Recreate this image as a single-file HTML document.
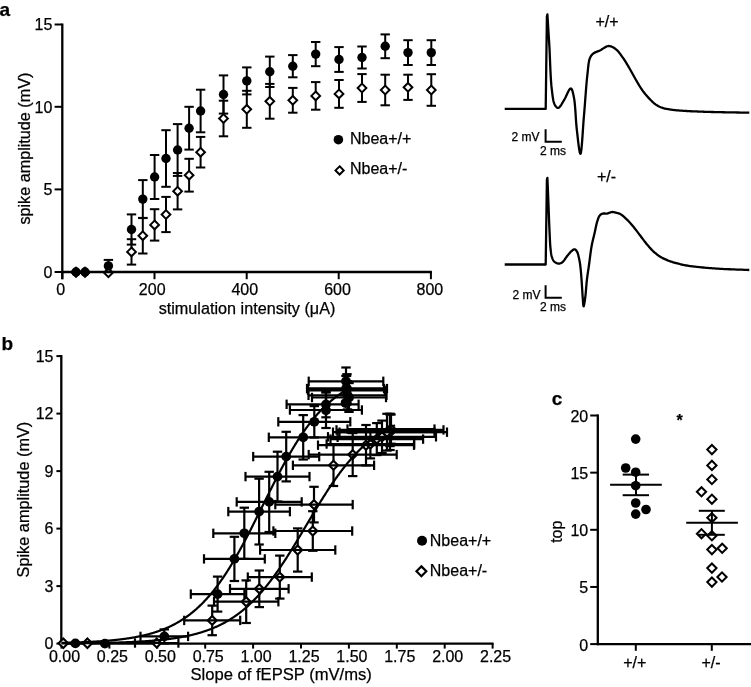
<!DOCTYPE html>
<html><head><meta charset="utf-8"><style>
html,body{margin:0;padding:0;background:#fff;}
svg{display:block;filter:grayscale(1);}
text{font-family:"Liberation Sans",sans-serif;fill:#000;stroke:#000;stroke-width:0.25px;}
</style></head><body>
<svg width="751" height="687" viewBox="0 0 751 687" stroke="#000" stroke-linecap="butt">
<rect width="751" height="687" fill="#fff" stroke="none"/>
<g>
<text x="-0.60" y="15.50" font-size="19" text-anchor="start" font-weight="bold">a</text>
<line x1="62.30" y1="23.40" x2="62.30" y2="279.20" stroke-width="2.3"/>
<line x1="54.60" y1="24.50" x2="62.20" y2="24.50" stroke-width="2.0"/>
<line x1="54.60" y1="106.80" x2="62.20" y2="106.80" stroke-width="2.0"/>
<line x1="54.60" y1="189.40" x2="62.20" y2="189.40" stroke-width="2.0"/>
<line x1="54.60" y1="272.00" x2="62.20" y2="272.00" stroke-width="2.0"/>
<line x1="62.30" y1="272.00" x2="62.30" y2="279.20" stroke-width="2.0"/>
<line x1="154.50" y1="272.00" x2="154.50" y2="279.20" stroke-width="2.0"/>
<line x1="246.70" y1="272.00" x2="246.70" y2="279.20" stroke-width="2.0"/>
<line x1="338.70" y1="272.00" x2="338.70" y2="279.20" stroke-width="2.0"/>
<line x1="430.90" y1="272.00" x2="430.90" y2="279.20" stroke-width="2.0"/>
<text x="52.30" y="30.30" font-size="16" text-anchor="end" font-weight="normal">15</text>
<text x="52.30" y="112.60" font-size="16" text-anchor="end" font-weight="normal">10</text>
<text x="52.30" y="195.20" font-size="16" text-anchor="end" font-weight="normal">5</text>
<text x="52.30" y="277.80" font-size="16" text-anchor="end" font-weight="normal">0</text>
<text x="60.70" y="294.60" font-size="16" text-anchor="middle" font-weight="normal">0</text>
<text x="152.20" y="294.60" font-size="16" text-anchor="middle" font-weight="normal">200</text>
<text x="244.80" y="294.60" font-size="16" text-anchor="middle" font-weight="normal">400</text>
<text x="337.50" y="294.60" font-size="16" text-anchor="middle" font-weight="normal">600</text>
<text x="429.90" y="294.60" font-size="16" text-anchor="middle" font-weight="normal">800</text>
<text x="247.00" y="313.50" font-size="16.2" text-anchor="middle" font-weight="normal">stimulation intensity (μA)</text>
<text x="29.80" y="148.60" font-size="16.2" text-anchor="middle" font-weight="normal" transform="rotate(-90 29.80 148.60)">spike amplitude (mV)</text>
<line x1="108.40" y1="259.90" x2="108.40" y2="271.90" stroke-width="2.0"/>
<line x1="103.70" y1="259.90" x2="113.10" y2="259.90" stroke-width="2.0"/>
<line x1="103.70" y1="271.90" x2="113.10" y2="271.90" stroke-width="2.0"/>
<line x1="131.50" y1="214.40" x2="131.50" y2="244.60" stroke-width="2.0"/>
<line x1="126.80" y1="214.40" x2="136.20" y2="214.40" stroke-width="2.0"/>
<line x1="126.80" y1="244.60" x2="136.20" y2="244.60" stroke-width="2.0"/>
<line x1="131.50" y1="239.20" x2="131.50" y2="264.60" stroke-width="2.0"/>
<line x1="126.80" y1="239.20" x2="136.20" y2="239.20" stroke-width="2.0"/>
<line x1="126.80" y1="264.60" x2="136.20" y2="264.60" stroke-width="2.0"/>
<line x1="142.80" y1="180.10" x2="142.80" y2="218.10" stroke-width="2.0"/>
<line x1="138.10" y1="180.10" x2="147.50" y2="180.10" stroke-width="2.0"/>
<line x1="138.10" y1="218.10" x2="147.50" y2="218.10" stroke-width="2.0"/>
<line x1="142.80" y1="217.90" x2="142.80" y2="253.50" stroke-width="2.0"/>
<line x1="138.10" y1="217.90" x2="147.50" y2="217.90" stroke-width="2.0"/>
<line x1="138.10" y1="253.50" x2="147.50" y2="253.50" stroke-width="2.0"/>
<line x1="154.60" y1="155.00" x2="154.60" y2="199.00" stroke-width="2.0"/>
<line x1="149.90" y1="155.00" x2="159.30" y2="155.00" stroke-width="2.0"/>
<line x1="149.90" y1="199.00" x2="159.30" y2="199.00" stroke-width="2.0"/>
<line x1="154.60" y1="209.20" x2="154.60" y2="240.60" stroke-width="2.0"/>
<line x1="149.90" y1="209.20" x2="159.30" y2="209.20" stroke-width="2.0"/>
<line x1="149.90" y1="240.60" x2="159.30" y2="240.60" stroke-width="2.0"/>
<line x1="166.00" y1="130.20" x2="166.00" y2="186.80" stroke-width="2.0"/>
<line x1="161.30" y1="130.20" x2="170.70" y2="130.20" stroke-width="2.0"/>
<line x1="161.30" y1="186.80" x2="170.70" y2="186.80" stroke-width="2.0"/>
<line x1="166.00" y1="196.90" x2="166.00" y2="232.10" stroke-width="2.0"/>
<line x1="161.30" y1="196.90" x2="170.70" y2="196.90" stroke-width="2.0"/>
<line x1="161.30" y1="232.10" x2="170.70" y2="232.10" stroke-width="2.0"/>
<line x1="177.60" y1="124.10" x2="177.60" y2="175.90" stroke-width="2.0"/>
<line x1="172.90" y1="124.10" x2="182.30" y2="124.10" stroke-width="2.0"/>
<line x1="172.90" y1="175.90" x2="182.30" y2="175.90" stroke-width="2.0"/>
<line x1="177.60" y1="173.00" x2="177.60" y2="209.40" stroke-width="2.0"/>
<line x1="172.90" y1="173.00" x2="182.30" y2="173.00" stroke-width="2.0"/>
<line x1="172.90" y1="209.40" x2="182.30" y2="209.40" stroke-width="2.0"/>
<line x1="189.10" y1="106.80" x2="189.10" y2="149.60" stroke-width="2.0"/>
<line x1="184.40" y1="106.80" x2="193.80" y2="106.80" stroke-width="2.0"/>
<line x1="184.40" y1="149.60" x2="193.80" y2="149.60" stroke-width="2.0"/>
<line x1="189.10" y1="158.80" x2="189.10" y2="191.60" stroke-width="2.0"/>
<line x1="184.40" y1="158.80" x2="193.80" y2="158.80" stroke-width="2.0"/>
<line x1="184.40" y1="191.60" x2="193.80" y2="191.60" stroke-width="2.0"/>
<line x1="200.60" y1="89.70" x2="200.60" y2="132.30" stroke-width="2.0"/>
<line x1="195.90" y1="89.70" x2="205.30" y2="89.70" stroke-width="2.0"/>
<line x1="195.90" y1="132.30" x2="205.30" y2="132.30" stroke-width="2.0"/>
<line x1="200.60" y1="136.90" x2="200.60" y2="167.50" stroke-width="2.0"/>
<line x1="195.90" y1="136.90" x2="205.30" y2="136.90" stroke-width="2.0"/>
<line x1="195.90" y1="167.50" x2="205.30" y2="167.50" stroke-width="2.0"/>
<line x1="223.50" y1="75.40" x2="223.50" y2="113.60" stroke-width="2.0"/>
<line x1="218.80" y1="75.40" x2="228.20" y2="75.40" stroke-width="2.0"/>
<line x1="218.80" y1="113.60" x2="228.20" y2="113.60" stroke-width="2.0"/>
<line x1="223.50" y1="100.70" x2="223.50" y2="136.30" stroke-width="2.0"/>
<line x1="218.80" y1="100.70" x2="228.20" y2="100.70" stroke-width="2.0"/>
<line x1="218.80" y1="136.30" x2="228.20" y2="136.30" stroke-width="2.0"/>
<line x1="246.80" y1="67.40" x2="246.80" y2="94.40" stroke-width="2.0"/>
<line x1="242.10" y1="67.40" x2="251.50" y2="67.40" stroke-width="2.0"/>
<line x1="242.10" y1="94.40" x2="251.50" y2="94.40" stroke-width="2.0"/>
<line x1="246.80" y1="90.80" x2="246.80" y2="127.80" stroke-width="2.0"/>
<line x1="242.10" y1="90.80" x2="251.50" y2="90.80" stroke-width="2.0"/>
<line x1="242.10" y1="127.80" x2="251.50" y2="127.80" stroke-width="2.0"/>
<line x1="269.80" y1="56.60" x2="269.80" y2="87.00" stroke-width="2.0"/>
<line x1="265.10" y1="56.60" x2="274.50" y2="56.60" stroke-width="2.0"/>
<line x1="265.10" y1="87.00" x2="274.50" y2="87.00" stroke-width="2.0"/>
<line x1="269.80" y1="83.90" x2="269.80" y2="118.70" stroke-width="2.0"/>
<line x1="265.10" y1="83.90" x2="274.50" y2="83.90" stroke-width="2.0"/>
<line x1="265.10" y1="118.70" x2="274.50" y2="118.70" stroke-width="2.0"/>
<line x1="292.80" y1="55.10" x2="292.80" y2="77.30" stroke-width="2.0"/>
<line x1="288.10" y1="55.10" x2="297.50" y2="55.10" stroke-width="2.0"/>
<line x1="288.10" y1="77.30" x2="297.50" y2="77.30" stroke-width="2.0"/>
<line x1="292.80" y1="87.90" x2="292.80" y2="112.70" stroke-width="2.0"/>
<line x1="288.10" y1="87.90" x2="297.50" y2="87.90" stroke-width="2.0"/>
<line x1="288.10" y1="112.70" x2="297.50" y2="112.70" stroke-width="2.0"/>
<line x1="315.70" y1="42.00" x2="315.70" y2="66.20" stroke-width="2.0"/>
<line x1="311.00" y1="42.00" x2="320.40" y2="42.00" stroke-width="2.0"/>
<line x1="311.00" y1="66.20" x2="320.40" y2="66.20" stroke-width="2.0"/>
<line x1="315.70" y1="82.10" x2="315.70" y2="109.70" stroke-width="2.0"/>
<line x1="311.00" y1="82.10" x2="320.40" y2="82.10" stroke-width="2.0"/>
<line x1="311.00" y1="109.70" x2="320.40" y2="109.70" stroke-width="2.0"/>
<line x1="339.00" y1="47.10" x2="339.00" y2="71.90" stroke-width="2.0"/>
<line x1="334.30" y1="47.10" x2="343.70" y2="47.10" stroke-width="2.0"/>
<line x1="334.30" y1="71.90" x2="343.70" y2="71.90" stroke-width="2.0"/>
<line x1="339.00" y1="80.00" x2="339.00" y2="107.80" stroke-width="2.0"/>
<line x1="334.30" y1="80.00" x2="343.70" y2="80.00" stroke-width="2.0"/>
<line x1="334.30" y1="107.80" x2="343.70" y2="107.80" stroke-width="2.0"/>
<line x1="362.00" y1="46.50" x2="362.00" y2="68.50" stroke-width="2.0"/>
<line x1="357.30" y1="46.50" x2="366.70" y2="46.50" stroke-width="2.0"/>
<line x1="357.30" y1="68.50" x2="366.70" y2="68.50" stroke-width="2.0"/>
<line x1="362.00" y1="74.10" x2="362.00" y2="101.90" stroke-width="2.0"/>
<line x1="357.30" y1="74.10" x2="366.70" y2="74.10" stroke-width="2.0"/>
<line x1="357.30" y1="101.90" x2="366.70" y2="101.90" stroke-width="2.0"/>
<line x1="385.20" y1="34.40" x2="385.20" y2="58.20" stroke-width="2.0"/>
<line x1="380.50" y1="34.40" x2="389.90" y2="34.40" stroke-width="2.0"/>
<line x1="380.50" y1="58.20" x2="389.90" y2="58.20" stroke-width="2.0"/>
<line x1="385.20" y1="74.70" x2="385.20" y2="105.30" stroke-width="2.0"/>
<line x1="380.50" y1="74.70" x2="389.90" y2="74.70" stroke-width="2.0"/>
<line x1="380.50" y1="105.30" x2="389.90" y2="105.30" stroke-width="2.0"/>
<line x1="408.00" y1="40.20" x2="408.00" y2="65.00" stroke-width="2.0"/>
<line x1="403.30" y1="40.20" x2="412.70" y2="40.20" stroke-width="2.0"/>
<line x1="403.30" y1="65.00" x2="412.70" y2="65.00" stroke-width="2.0"/>
<line x1="408.00" y1="74.70" x2="408.00" y2="99.90" stroke-width="2.0"/>
<line x1="403.30" y1="74.70" x2="412.70" y2="74.70" stroke-width="2.0"/>
<line x1="403.30" y1="99.90" x2="412.70" y2="99.90" stroke-width="2.0"/>
<line x1="431.30" y1="40.20" x2="431.30" y2="65.00" stroke-width="2.0"/>
<line x1="426.60" y1="40.20" x2="436.00" y2="40.20" stroke-width="2.0"/>
<line x1="426.60" y1="65.00" x2="436.00" y2="65.00" stroke-width="2.0"/>
<line x1="431.30" y1="74.20" x2="431.30" y2="105.80" stroke-width="2.0"/>
<line x1="426.60" y1="74.20" x2="436.00" y2="74.20" stroke-width="2.0"/>
<line x1="426.60" y1="105.80" x2="436.00" y2="105.80" stroke-width="2.0"/>
<path d="M76.00 267.70L80.60 272.30L76.00 276.90L71.40 272.30Z" fill="#fff" stroke-width="2.0"/>
<path d="M85.00 267.70L89.60 272.30L85.00 276.90L80.40 272.30Z" fill="#fff" stroke-width="2.0"/>
<path d="M108.40 268.45L112.75 272.80L108.40 277.15L104.05 272.80Z" fill="#fff" stroke-width="2.0"/>
<path d="M131.50 247.55L135.85 251.90L131.50 256.25L127.15 251.90Z" fill="#fff" stroke-width="2.0"/>
<path d="M142.80 231.35L147.15 235.70L142.80 240.05L138.45 235.70Z" fill="#fff" stroke-width="2.0"/>
<path d="M154.60 220.55L158.95 224.90L154.60 229.25L150.25 224.90Z" fill="#fff" stroke-width="2.0"/>
<path d="M166.00 210.15L170.35 214.50L166.00 218.85L161.65 214.50Z" fill="#fff" stroke-width="2.0"/>
<path d="M177.60 186.85L181.95 191.20L177.60 195.55L173.25 191.20Z" fill="#fff" stroke-width="2.0"/>
<path d="M189.10 170.85L193.45 175.20L189.10 179.55L184.75 175.20Z" fill="#fff" stroke-width="2.0"/>
<path d="M200.60 147.85L204.95 152.20L200.60 156.55L196.25 152.20Z" fill="#fff" stroke-width="2.0"/>
<path d="M223.50 114.15L227.85 118.50L223.50 122.85L219.15 118.50Z" fill="#fff" stroke-width="2.0"/>
<path d="M246.80 104.95L251.15 109.30L246.80 113.65L242.45 109.30Z" fill="#fff" stroke-width="2.0"/>
<path d="M269.80 96.95L274.15 101.30L269.80 105.65L265.45 101.30Z" fill="#fff" stroke-width="2.0"/>
<path d="M292.80 95.95L297.15 100.30L292.80 104.65L288.45 100.30Z" fill="#fff" stroke-width="2.0"/>
<path d="M315.70 91.55L320.05 95.90L315.70 100.25L311.35 95.90Z" fill="#fff" stroke-width="2.0"/>
<path d="M339.00 89.55L343.35 93.90L339.00 98.25L334.65 93.90Z" fill="#fff" stroke-width="2.0"/>
<path d="M362.00 83.65L366.35 88.00L362.00 92.35L357.65 88.00Z" fill="#fff" stroke-width="2.0"/>
<path d="M385.20 85.65L389.55 90.00L385.20 94.35L380.85 90.00Z" fill="#fff" stroke-width="2.0"/>
<path d="M408.00 82.95L412.35 87.30L408.00 91.65L403.65 87.30Z" fill="#fff" stroke-width="2.0"/>
<path d="M431.30 85.65L435.65 90.00L431.30 94.35L426.95 90.00Z" fill="#fff" stroke-width="2.0"/>
<circle cx="76.00" cy="272.00" r="4.7" fill="#000" stroke="none"/>
<circle cx="85.00" cy="272.00" r="4.7" fill="#000" stroke="none"/>
<circle cx="108.40" cy="265.90" r="4.7" fill="#000" stroke="none"/>
<circle cx="131.50" cy="229.50" r="4.7" fill="#000" stroke="none"/>
<circle cx="142.80" cy="199.10" r="4.7" fill="#000" stroke="none"/>
<circle cx="154.60" cy="177.00" r="4.7" fill="#000" stroke="none"/>
<circle cx="166.00" cy="158.50" r="4.7" fill="#000" stroke="none"/>
<circle cx="177.60" cy="150.00" r="4.7" fill="#000" stroke="none"/>
<circle cx="189.10" cy="128.20" r="4.7" fill="#000" stroke="none"/>
<circle cx="200.60" cy="111.00" r="4.7" fill="#000" stroke="none"/>
<circle cx="223.50" cy="94.50" r="4.7" fill="#000" stroke="none"/>
<circle cx="246.80" cy="80.90" r="4.7" fill="#000" stroke="none"/>
<circle cx="269.80" cy="71.80" r="4.7" fill="#000" stroke="none"/>
<circle cx="292.80" cy="66.20" r="4.7" fill="#000" stroke="none"/>
<circle cx="315.70" cy="54.10" r="4.7" fill="#000" stroke="none"/>
<circle cx="339.00" cy="59.50" r="4.7" fill="#000" stroke="none"/>
<circle cx="362.00" cy="57.50" r="4.7" fill="#000" stroke="none"/>
<circle cx="385.20" cy="46.30" r="4.7" fill="#000" stroke="none"/>
<circle cx="408.00" cy="52.60" r="4.7" fill="#000" stroke="none"/>
<circle cx="431.30" cy="52.60" r="4.7" fill="#000" stroke="none"/>
<line x1="61.20" y1="272.00" x2="431.90" y2="272.00" stroke-width="2.3"/>
<circle cx="338.40" cy="139.70" r="4.8" fill="#000" stroke="none"/>
<text x="350.00" y="143.60" font-size="16" text-anchor="start" font-weight="normal">Nbea+/+</text>
<path d="M339.60 166.27L343.73 170.40L339.60 174.53L335.47 170.40Z" fill="#fff" stroke-width="1.95"/>
<text x="350.00" y="174.30" font-size="16" text-anchor="start" font-weight="normal">Nbea+/-</text>
<path d="M504.70 108.90 L545.70 108.90 L546.90 16.50 L547.40 14.40 L547.47 15.61 L547.55 16.82 L547.62 18.02 L547.70 19.22 L547.77 20.41 L547.84 21.61 L547.92 22.82 L547.99 24.03 L548.07 25.25 L548.14 26.49 L548.22 27.74 L548.30 29.00 L548.39 30.39 L548.47 31.75 L548.56 33.11 L548.65 34.47 L548.73 35.84 L548.82 37.23 L548.91 38.65 L549.01 40.12 L549.10 41.63 L549.20 43.21 L549.30 44.86 L549.40 46.60 L549.56 49.53 L549.70 52.77 L549.85 56.28 L549.99 59.97 L550.14 63.78 L550.30 67.66 L550.48 71.53 L550.67 75.32 L550.88 78.98 L551.12 82.44 L551.39 85.64 L551.70 88.50 L551.90 90.17 L552.09 91.82 L552.28 93.44 L552.48 95.01 L552.68 96.53 L552.90 97.99 L553.13 99.37 L553.39 100.66 L553.69 101.87 L554.01 102.96 L554.38 103.94 L554.80 104.80 L555.04 105.21 L555.29 105.62 L555.55 106.00 L555.82 106.37 L556.11 106.71 L556.39 107.02 L556.69 107.29 L556.98 107.52 L557.29 107.70 L557.59 107.83 L557.90 107.89 L558.20 107.90 L558.65 107.77 L559.11 107.47 L559.59 107.03 L560.08 106.47 L560.57 105.81 L561.07 105.07 L561.57 104.28 L562.07 103.44 L562.57 102.60 L563.06 101.76 L563.53 100.96 L564.00 100.20 L564.53 99.31 L565.06 98.31 L565.60 97.23 L566.13 96.10 L566.66 94.95 L567.18 93.82 L567.69 92.73 L568.18 91.71 L568.65 90.80 L569.09 90.03 L569.51 89.42 L569.90 89.00 L570.02 88.90 L570.14 88.82 L570.25 88.74 L570.36 88.67 L570.47 88.61 L570.58 88.57 L570.68 88.54 L570.79 88.52 L570.89 88.51 L570.99 88.53 L571.10 88.55 L571.20 88.60 L571.47 88.83 L571.73 89.21 L571.99 89.72 L572.24 90.36 L572.48 91.10 L572.72 91.93 L572.94 92.84 L573.17 93.80 L573.38 94.80 L573.59 95.83 L573.80 96.87 L574.00 97.90 L574.34 99.93 L574.64 102.23 L574.90 104.77 L575.13 107.48 L575.35 110.34 L575.55 113.29 L575.74 116.29 L575.94 119.30 L576.15 122.27 L576.37 125.16 L576.62 127.91 L576.90 130.50 L577.16 132.73 L577.44 135.16 L577.72 137.70 L578.02 140.30 L578.32 142.86 L578.63 145.32 L578.94 147.61 L579.25 149.65 L579.55 151.36 L579.84 152.67 L580.13 153.51 L580.40 153.80 L580.73 153.30 L581.04 151.91 L581.35 149.76 L581.65 146.96 L581.94 143.64 L582.23 139.94 L582.51 135.96 L582.79 131.85 L583.06 127.72 L583.34 123.70 L583.62 119.92 L583.90 116.50 L584.20 113.03 L584.49 109.43 L584.78 105.74 L585.06 102.00 L585.34 98.23 L585.63 94.49 L585.91 90.81 L586.20 87.22 L586.49 83.77 L586.79 80.49 L587.09 77.42 L587.40 74.60 L587.59 72.93 L587.76 71.30 L587.92 69.71 L588.07 68.17 L588.22 66.68 L588.39 65.25 L588.56 63.88 L588.76 62.59 L588.99 61.36 L589.25 60.22 L589.55 59.17 L589.90 58.20 L590.12 57.68 L590.34 57.20 L590.57 56.75 L590.81 56.33 L591.05 55.94 L591.31 55.57 L591.58 55.21 L591.87 54.88 L592.17 54.55 L592.49 54.23 L592.83 53.91 L593.20 53.60 L593.66 53.25 L594.16 52.93 L594.70 52.63 L595.26 52.35 L595.84 52.09 L596.45 51.84 L597.07 51.60 L597.69 51.36 L598.33 51.11 L598.96 50.86 L599.58 50.59 L600.20 50.30 L600.88 49.94 L601.58 49.53 L602.28 49.08 L603.00 48.61 L603.72 48.14 L604.44 47.68 L605.16 47.24 L605.88 46.85 L606.60 46.51 L607.31 46.25 L608.01 46.07 L608.70 46.00 L609.33 46.02 L609.96 46.11 L610.59 46.26 L611.22 46.46 L611.85 46.71 L612.47 47.00 L613.08 47.33 L613.69 47.68 L614.28 48.07 L614.87 48.47 L615.44 48.88 L616.00 49.30 L616.62 49.80 L617.21 50.35 L617.79 50.94 L618.35 51.57 L618.90 52.23 L619.44 52.92 L619.98 53.62 L620.50 54.35 L621.03 55.08 L621.55 55.82 L622.07 56.56 L622.60 57.30 L623.18 58.12 L623.76 58.96 L624.32 59.82 L624.89 60.69 L625.45 61.58 L626.01 62.48 L626.56 63.39 L627.11 64.30 L627.66 65.22 L628.21 66.15 L628.75 67.07 L629.30 68.00 L629.87 68.97 L630.43 69.96 L630.99 70.96 L631.55 71.97 L632.10 72.99 L632.65 74.00 L633.21 75.02 L633.76 76.04 L634.32 77.04 L634.87 78.04 L635.43 79.03 L636.00 80.00 L636.54 80.92 L637.08 81.84 L637.62 82.75 L638.16 83.67 L638.70 84.57 L639.24 85.47 L639.79 86.36 L640.34 87.24 L640.89 88.10 L641.45 88.95 L642.02 89.79 L642.60 90.60 L643.13 91.33 L643.67 92.04 L644.22 92.75 L644.77 93.44 L645.32 94.13 L645.88 94.80 L646.44 95.46 L647.01 96.11 L647.58 96.75 L648.15 97.38 L648.72 97.99 L649.30 98.60 L649.83 99.15 L650.37 99.71 L650.90 100.25 L651.44 100.79 L651.98 101.32 L652.53 101.84 L653.08 102.35 L653.63 102.83 L654.19 103.31 L654.75 103.76 L655.32 104.19 L655.90 104.60 L656.43 104.95 L656.96 105.29 L657.49 105.61 L658.02 105.91 L658.55 106.20 L659.09 106.47 L659.64 106.74 L660.20 106.99 L660.77 107.23 L661.36 107.46 L661.97 107.68 L662.60 107.90 L663.38 108.14 L664.19 108.37 L665.02 108.57 L665.88 108.76 L666.75 108.93 L667.65 109.09 L668.55 109.24 L669.47 109.38 L670.39 109.52 L671.33 109.65 L672.26 109.77 L673.20 109.90 L674.25 110.03 L675.32 110.16 L676.41 110.27 L677.51 110.37 L678.62 110.47 L679.74 110.56 L680.87 110.64 L682.00 110.71 L683.13 110.79 L684.26 110.86 L685.38 110.93 L686.50 111.00 L687.62 111.07 L688.73 111.13 L689.84 111.19 L690.95 111.24 L692.06 111.29 L693.17 111.34 L694.29 111.39 L695.41 111.43 L696.54 111.47 L697.68 111.51 L698.83 111.56 L700.00 111.60 L701.27 111.65 L702.52 111.69 L703.77 111.74 L705.02 111.78 L706.28 111.82 L707.55 111.86 L708.85 111.90 L710.19 111.94 L711.56 111.98 L712.98 112.02 L714.46 112.06 L716.00 112.10 L718.35 112.16 L720.85 112.21 L723.48 112.26 L726.21 112.31 L729.02 112.36 L731.90 112.41 L734.81 112.46 L737.75 112.51 L740.69 112.55 L743.61 112.60 L746.49 112.65 L749.30 112.70" fill="none" stroke-width="2.3" stroke-linejoin="round"/>
<path d="M504.70 264.50 L545.70 264.50 L546.90 179.80 L547.40 177.80 L547.47 179.63 L547.55 181.44 L547.62 183.23 L547.69 185.01 L547.77 186.80 L547.84 188.59 L547.91 190.39 L547.99 192.23 L548.06 194.10 L548.14 196.01 L548.22 197.97 L548.30 200.00 L548.41 202.69 L548.52 205.57 L548.63 208.58 L548.75 211.69 L548.87 214.86 L548.99 218.04 L549.11 221.19 L549.23 224.27 L549.35 227.23 L549.47 230.04 L549.59 232.64 L549.70 235.00 L549.77 236.34 L549.82 237.62 L549.88 238.84 L549.93 240.01 L549.99 241.14 L550.04 242.22 L550.10 243.28 L550.16 244.31 L550.23 245.32 L550.31 246.32 L550.40 247.31 L550.50 248.30 L550.59 249.10 L550.67 249.90 L550.76 250.68 L550.84 251.45 L550.94 252.21 L551.04 252.96 L551.14 253.69 L551.26 254.40 L551.40 255.08 L551.55 255.75 L551.71 256.39 L551.90 257.00 L552.05 257.45 L552.21 257.90 L552.37 258.34 L552.54 258.76 L552.71 259.17 L552.89 259.57 L553.09 259.96 L553.30 260.32 L553.52 260.67 L553.76 261.00 L554.02 261.31 L554.30 261.60 L554.59 261.86 L554.91 262.11 L555.24 262.35 L555.60 262.57 L555.96 262.78 L556.34 262.97 L556.73 263.14 L557.11 263.29 L557.50 263.41 L557.87 263.50 L558.24 263.57 L558.60 263.60 L558.92 263.60 L559.23 263.58 L559.55 263.54 L559.86 263.48 L560.17 263.40 L560.48 263.29 L560.79 263.17 L561.09 263.03 L561.40 262.87 L561.70 262.70 L562.00 262.51 L562.30 262.30 L562.71 261.97 L563.11 261.58 L563.51 261.13 L563.90 260.64 L564.29 260.12 L564.68 259.57 L565.06 259.01 L565.45 258.44 L565.83 257.88 L566.22 257.33 L566.61 256.80 L567.00 256.30 L567.38 255.83 L567.77 255.35 L568.15 254.86 L568.54 254.37 L568.93 253.89 L569.32 253.41 L569.71 252.95 L570.09 252.50 L570.47 252.08 L570.85 251.68 L571.23 251.32 L571.60 251.00 L571.86 250.79 L572.12 250.57 L572.38 250.36 L572.63 250.16 L572.89 249.97 L573.15 249.79 L573.40 249.64 L573.65 249.50 L573.89 249.40 L574.13 249.33 L574.37 249.29 L574.60 249.30 L574.82 249.35 L575.04 249.43 L575.26 249.55 L575.47 249.71 L575.68 249.88 L575.89 250.09 L576.09 250.31 L576.28 250.55 L576.47 250.80 L576.65 251.06 L576.83 251.33 L577.00 251.60 L577.23 252.02 L577.44 252.49 L577.64 252.99 L577.83 253.53 L578.00 254.10 L578.16 254.70 L578.31 255.30 L578.46 255.91 L578.60 256.53 L578.73 257.13 L578.87 257.73 L579.00 258.30 L579.13 258.85 L579.25 259.38 L579.36 259.91 L579.47 260.43 L579.57 260.96 L579.66 261.49 L579.76 262.03 L579.85 262.58 L579.94 263.15 L580.02 263.74 L580.11 264.35 L580.20 265.00 L580.33 265.98 L580.45 267.01 L580.56 268.08 L580.68 269.20 L580.79 270.35 L580.89 271.53 L581.00 272.74 L581.10 273.97 L581.20 275.21 L581.30 276.47 L581.40 277.73 L581.50 279.00 L581.62 280.55 L581.73 282.18 L581.84 283.88 L581.95 285.62 L582.06 287.39 L582.17 289.16 L582.27 290.90 L582.38 292.61 L582.48 294.26 L582.59 295.82 L582.69 297.27 L582.80 298.60 L582.86 299.41 L582.93 300.27 L582.98 301.13 L583.04 302.00 L583.10 302.83 L583.16 303.63 L583.22 304.36 L583.28 305.00 L583.35 305.53 L583.43 305.94 L583.51 306.21 L583.60 306.30 L583.70 306.21 L583.81 305.96 L583.93 305.55 L584.06 305.02 L584.19 304.37 L584.32 303.64 L584.46 302.85 L584.59 302.01 L584.73 301.14 L584.86 300.27 L584.98 299.42 L585.10 298.60 L585.28 297.27 L585.44 295.82 L585.60 294.26 L585.76 292.62 L585.91 290.91 L586.06 289.16 L586.20 287.39 L586.35 285.62 L586.50 283.88 L586.66 282.18 L586.83 280.55 L587.00 279.00 L587.15 277.76 L587.31 276.55 L587.47 275.38 L587.63 274.23 L587.80 273.10 L587.96 271.98 L588.13 270.86 L588.30 269.73 L588.48 268.59 L588.65 267.43 L588.82 266.23 L589.00 265.00 L589.20 263.52 L589.40 261.99 L589.60 260.41 L589.81 258.81 L590.01 257.19 L590.22 255.56 L590.43 253.93 L590.65 252.31 L590.87 250.72 L591.10 249.17 L591.35 247.66 L591.60 246.20 L591.82 245.01 L592.06 243.85 L592.30 242.70 L592.55 241.58 L592.81 240.48 L593.07 239.39 L593.33 238.31 L593.59 237.24 L593.85 236.17 L594.10 235.12 L594.36 234.06 L594.60 233.00 L594.82 232.01 L595.04 231.01 L595.25 230.00 L595.45 228.99 L595.66 227.99 L595.86 227.00 L596.07 226.03 L596.28 225.08 L596.50 224.15 L596.73 223.26 L596.96 222.41 L597.20 221.60 L597.38 221.02 L597.56 220.45 L597.74 219.89 L597.91 219.34 L598.09 218.81 L598.28 218.29 L598.47 217.79 L598.67 217.32 L598.88 216.87 L599.11 216.45 L599.35 216.06 L599.60 215.70 L599.79 215.46 L599.99 215.24 L600.19 215.03 L600.39 214.83 L600.60 214.65 L600.82 214.48 L601.05 214.32 L601.28 214.17 L601.52 214.04 L601.77 213.92 L602.03 213.80 L602.30 213.70 L602.66 213.60 L603.05 213.54 L603.48 213.50 L603.92 213.49 L604.38 213.50 L604.84 213.51 L605.30 213.54 L605.75 213.56 L606.18 213.57 L606.59 213.57 L606.96 213.55 L607.30 213.50 L607.49 213.46 L607.67 213.41 L607.83 213.35 L607.99 213.30 L608.13 213.24 L608.28 213.17 L608.42 213.11 L608.56 213.04 L608.71 212.98 L608.86 212.92 L609.03 212.86 L609.20 212.80 L609.44 212.72 L609.69 212.64 L609.95 212.56 L610.22 212.47 L610.49 212.38 L610.77 212.30 L611.06 212.22 L611.34 212.15 L611.63 212.09 L611.92 212.05 L612.21 212.01 L612.50 212.00 L612.81 212.00 L613.13 212.03 L613.45 212.07 L613.78 212.12 L614.10 212.19 L614.43 212.26 L614.76 212.35 L615.09 212.44 L615.42 212.53 L615.75 212.62 L616.07 212.71 L616.40 212.80 L616.73 212.88 L617.06 212.97 L617.39 213.04 L617.72 213.12 L618.05 213.20 L618.37 213.29 L618.70 213.39 L619.03 213.50 L619.37 213.62 L619.71 213.76 L620.05 213.92 L620.40 214.10 L620.90 214.39 L621.40 214.72 L621.92 215.09 L622.45 215.49 L622.98 215.92 L623.51 216.37 L624.05 216.84 L624.59 217.32 L625.12 217.81 L625.66 218.31 L626.18 218.81 L626.70 219.30 L627.26 219.85 L627.82 220.41 L628.38 220.99 L628.93 221.58 L629.49 222.18 L630.04 222.79 L630.58 223.41 L631.13 224.04 L631.68 224.67 L632.22 225.31 L632.76 225.95 L633.30 226.60 L633.87 227.29 L634.43 227.99 L635.00 228.70 L635.56 229.43 L636.11 230.16 L636.67 230.89 L637.23 231.63 L637.78 232.37 L638.34 233.10 L638.89 233.84 L639.44 234.57 L640.00 235.30 L640.55 236.02 L641.10 236.75 L641.64 237.47 L642.19 238.20 L642.73 238.93 L643.28 239.66 L643.83 240.38 L644.37 241.10 L644.92 241.81 L645.48 242.52 L646.04 243.22 L646.60 243.90 L647.14 244.55 L647.69 245.20 L648.24 245.85 L648.79 246.49 L649.34 247.13 L649.89 247.76 L650.45 248.38 L651.01 248.99 L651.58 249.59 L652.15 250.18 L652.72 250.75 L653.30 251.30 L653.84 251.80 L654.38 252.29 L654.93 252.77 L655.48 253.24 L656.04 253.71 L656.59 254.16 L657.15 254.60 L657.72 255.02 L658.28 255.44 L658.85 255.84 L659.43 256.23 L660.00 256.60 L660.54 256.93 L661.08 257.25 L661.62 257.56 L662.17 257.85 L662.71 258.13 L663.26 258.40 L663.82 258.67 L664.37 258.92 L664.93 259.17 L665.48 259.42 L666.04 259.66 L666.60 259.90 L667.14 260.13 L667.68 260.35 L668.20 260.56 L668.73 260.76 L669.25 260.96 L669.78 261.16 L670.33 261.35 L670.88 261.54 L671.45 261.72 L672.04 261.91 L672.66 262.11 L673.30 262.30 L674.24 262.58 L675.25 262.86 L676.29 263.15 L677.38 263.43 L678.50 263.72 L679.65 264.00 L680.81 264.28 L681.98 264.55 L683.16 264.81 L684.32 265.05 L685.47 265.29 L686.60 265.50 L687.69 265.69 L688.78 265.87 L689.85 266.04 L690.92 266.19 L691.99 266.33 L693.07 266.46 L694.15 266.59 L695.26 266.71 L696.38 266.83 L697.52 266.95 L698.69 267.08 L699.90 267.20 L701.42 267.35 L702.96 267.50 L704.54 267.65 L706.15 267.79 L707.79 267.93 L709.45 268.07 L711.14 268.20 L712.86 268.33 L714.61 268.45 L716.38 268.57 L718.18 268.69 L720.00 268.80 L722.25 268.93 L724.56 269.05 L726.94 269.16 L729.36 269.26 L731.82 269.36 L734.30 269.45 L736.81 269.54 L739.33 269.63 L741.85 269.72 L744.35 269.81 L746.84 269.90 L749.30 270.00" fill="none" stroke-width="2.3" stroke-linejoin="round"/>
<path d="M545.6 129.3V141.8H561.8" fill="none" stroke-width="2"/>
<text x="511.50" y="141.00" font-size="12" text-anchor="start" font-weight="normal">2 mV</text>
<text x="540.00" y="155.40" font-size="12" text-anchor="start" font-weight="normal">2 ms</text>
<path d="M545.6 285.3V297.8H561.8" fill="none" stroke-width="2"/>
<text x="512.40" y="298.50" font-size="12" text-anchor="start" font-weight="normal">2 mV</text>
<text x="540.00" y="310.80" font-size="12" text-anchor="start" font-weight="normal">2 ms</text>
<text x="595.50" y="27.00" font-size="16" text-anchor="start" font-weight="normal">+/+</text>
<text x="597.00" y="181.60" font-size="16" text-anchor="start" font-weight="normal">+/-</text>
<text x="551.80" y="404.60" font-size="19" text-anchor="start" font-weight="bold">c</text>
<line x1="597.80" y1="414.40" x2="597.80" y2="645.20" stroke-width="2.3"/>
<line x1="596.80" y1="644.10" x2="751.00" y2="644.10" stroke-width="2.3"/>
<line x1="590.20" y1="415.50" x2="597.80" y2="415.50" stroke-width="2.0"/>
<text x="588.20" y="421.90" font-size="16" text-anchor="end" font-weight="normal">20</text>
<line x1="590.20" y1="472.65" x2="597.80" y2="472.65" stroke-width="2.0"/>
<text x="588.20" y="479.05" font-size="16" text-anchor="end" font-weight="normal">15</text>
<line x1="590.20" y1="529.80" x2="597.80" y2="529.80" stroke-width="2.0"/>
<text x="588.20" y="536.20" font-size="16" text-anchor="end" font-weight="normal">10</text>
<line x1="590.20" y1="586.95" x2="597.80" y2="586.95" stroke-width="2.0"/>
<text x="588.20" y="593.35" font-size="16" text-anchor="end" font-weight="normal">5</text>
<line x1="590.20" y1="644.10" x2="597.80" y2="644.10" stroke-width="2.0"/>
<text x="588.20" y="650.50" font-size="16" text-anchor="end" font-weight="normal">0</text>
<line x1="635.80" y1="644.10" x2="635.80" y2="650.80" stroke-width="2.0"/>
<line x1="711.80" y1="644.10" x2="711.80" y2="650.80" stroke-width="2.0"/>
<text x="634.80" y="667.50" font-size="16" text-anchor="middle" font-weight="normal">+/+</text>
<text x="711.00" y="667.50" font-size="16" text-anchor="middle" font-weight="normal">+/-</text>
<text x="562.50" y="531.70" font-size="16" text-anchor="middle" font-weight="normal" transform="rotate(-90 562.50 531.70)">top</text>
<text x="679.50" y="426.30" font-size="16" text-anchor="middle" font-weight="bold">*</text>
<line x1="610.10" y1="484.70" x2="661.80" y2="484.70" stroke-width="2.0"/>
<line x1="622.70" y1="474.60" x2="649.00" y2="474.60" stroke-width="2.0"/>
<line x1="622.70" y1="495.20" x2="649.00" y2="495.20" stroke-width="2.0"/>
<line x1="636.00" y1="474.60" x2="636.00" y2="495.20" stroke-width="2.0"/>
<circle cx="635.70" cy="439.10" r="4.8" fill="#000" stroke="none"/>
<circle cx="625.70" cy="468.00" r="4.8" fill="#000" stroke="none"/>
<circle cx="635.70" cy="472.20" r="4.8" fill="#000" stroke="none"/>
<circle cx="635.70" cy="485.70" r="4.8" fill="#000" stroke="none"/>
<circle cx="635.70" cy="503.00" r="4.8" fill="#000" stroke="none"/>
<circle cx="646.00" cy="509.50" r="4.8" fill="#000" stroke="none"/>
<circle cx="635.70" cy="514.10" r="4.8" fill="#000" stroke="none"/>
<path d="M711.90 445.00L716.50 449.60L711.90 454.20L707.30 449.60Z" fill="#fff" stroke-width="2.05"/>
<path d="M711.90 460.80L716.50 465.40L711.90 470.00L707.30 465.40Z" fill="#fff" stroke-width="2.05"/>
<path d="M711.90 474.90L716.50 479.50L711.90 484.10L707.30 479.50Z" fill="#fff" stroke-width="2.05"/>
<path d="M701.50 487.20L706.10 491.80L701.50 496.40L696.90 491.80Z" fill="#fff" stroke-width="2.05"/>
<path d="M711.90 494.60L716.50 499.20L711.90 503.80L707.30 499.20Z" fill="#fff" stroke-width="2.05"/>
<path d="M711.90 513.10L716.50 517.70L711.90 522.30L707.30 517.70Z" fill="#fff" stroke-width="2.05"/>
<path d="M701.50 529.10L706.10 533.70L701.50 538.30L696.90 533.70Z" fill="#fff" stroke-width="2.05"/>
<path d="M711.90 531.20L716.50 535.80L711.90 540.40L707.30 535.80Z" fill="#fff" stroke-width="2.05"/>
<path d="M711.90 545.00L716.50 549.60L711.90 554.20L707.30 549.60Z" fill="#fff" stroke-width="2.05"/>
<path d="M722.20 543.70L726.80 548.30L722.20 552.90L717.60 548.30Z" fill="#fff" stroke-width="2.05"/>
<path d="M711.90 563.50L716.50 568.10L711.90 572.70L707.30 568.10Z" fill="#fff" stroke-width="2.05"/>
<path d="M722.00 572.40L726.60 577.00L722.00 581.60L717.40 577.00Z" fill="#fff" stroke-width="2.05"/>
<path d="M711.90 577.50L716.50 582.10L711.90 586.70L707.30 582.10Z" fill="#fff" stroke-width="2.05"/>
<line x1="686.20" y1="522.70" x2="737.90" y2="522.70" stroke-width="2.0"/>
<line x1="698.80" y1="510.80" x2="724.80" y2="510.80" stroke-width="2.0"/>
<line x1="698.80" y1="534.80" x2="724.80" y2="534.80" stroke-width="2.0"/>
<line x1="711.90" y1="510.80" x2="711.90" y2="534.80" stroke-width="2.0"/>
<text x="1.60" y="350.40" font-size="19" text-anchor="start" font-weight="bold">b</text>
<line x1="61.30" y1="355.00" x2="61.30" y2="644.70" stroke-width="2.3"/>
<line x1="60.30" y1="643.60" x2="493.60" y2="643.60" stroke-width="2.3"/>
<line x1="56.40" y1="643.60" x2="61.30" y2="643.60" stroke-width="2.0"/>
<text x="53.50" y="649.20" font-size="16" text-anchor="end" font-weight="normal">0</text>
<line x1="56.40" y1="586.10" x2="61.30" y2="586.10" stroke-width="2.0"/>
<text x="53.50" y="591.70" font-size="16" text-anchor="end" font-weight="normal">3</text>
<line x1="56.40" y1="528.60" x2="61.30" y2="528.60" stroke-width="2.0"/>
<text x="53.50" y="534.20" font-size="16" text-anchor="end" font-weight="normal">6</text>
<line x1="56.40" y1="471.10" x2="61.30" y2="471.10" stroke-width="2.0"/>
<text x="53.50" y="476.70" font-size="16" text-anchor="end" font-weight="normal">9</text>
<line x1="56.40" y1="413.60" x2="61.30" y2="413.60" stroke-width="2.0"/>
<text x="53.50" y="419.20" font-size="16" text-anchor="end" font-weight="normal">12</text>
<line x1="56.40" y1="356.10" x2="61.30" y2="356.10" stroke-width="2.0"/>
<text x="53.50" y="361.70" font-size="16" text-anchor="end" font-weight="normal">15</text>
<line x1="61.50" y1="643.60" x2="61.50" y2="648.60" stroke-width="2.0"/>
<text x="64.50" y="662.40" font-size="16" text-anchor="middle" font-weight="normal">0.00</text>
<line x1="109.40" y1="643.60" x2="109.40" y2="648.60" stroke-width="2.0"/>
<text x="112.40" y="662.40" font-size="16" text-anchor="middle" font-weight="normal">0.25</text>
<line x1="157.30" y1="643.60" x2="157.30" y2="648.60" stroke-width="2.0"/>
<text x="160.30" y="662.40" font-size="16" text-anchor="middle" font-weight="normal">0.50</text>
<line x1="205.20" y1="643.60" x2="205.20" y2="648.60" stroke-width="2.0"/>
<text x="208.20" y="662.40" font-size="16" text-anchor="middle" font-weight="normal">0.75</text>
<line x1="253.10" y1="643.60" x2="253.10" y2="648.60" stroke-width="2.0"/>
<text x="256.10" y="662.40" font-size="16" text-anchor="middle" font-weight="normal">1.00</text>
<line x1="301.00" y1="643.60" x2="301.00" y2="648.60" stroke-width="2.0"/>
<text x="304.00" y="662.40" font-size="16" text-anchor="middle" font-weight="normal">1.25</text>
<line x1="348.90" y1="643.60" x2="348.90" y2="648.60" stroke-width="2.0"/>
<text x="351.90" y="662.40" font-size="16" text-anchor="middle" font-weight="normal">1.50</text>
<line x1="396.80" y1="643.60" x2="396.80" y2="648.60" stroke-width="2.0"/>
<text x="399.80" y="662.40" font-size="16" text-anchor="middle" font-weight="normal">1.75</text>
<line x1="444.70" y1="643.60" x2="444.70" y2="648.60" stroke-width="2.0"/>
<text x="447.70" y="662.40" font-size="16" text-anchor="middle" font-weight="normal">2.00</text>
<line x1="492.60" y1="643.60" x2="492.60" y2="648.60" stroke-width="2.0"/>
<text x="495.60" y="662.40" font-size="16" text-anchor="middle" font-weight="normal">2.25</text>
<text x="281.20" y="680.00" font-size="16.6" text-anchor="middle" font-weight="normal">Slope of fEPSP (mV/ms)</text>
<text x="29.00" y="499.60" font-size="16.3" text-anchor="middle" font-weight="normal" transform="rotate(-90 29.00 499.60)">Spike amplitude (mV)</text>
<line x1="212.20" y1="605.60" x2="212.20" y2="635.20" stroke-width="2.2"/>
<line x1="207.50" y1="605.60" x2="216.90" y2="605.60" stroke-width="2.2"/>
<line x1="207.50" y1="635.20" x2="216.90" y2="635.20" stroke-width="2.2"/>
<line x1="246.20" y1="580.40" x2="246.20" y2="623.00" stroke-width="2.2"/>
<line x1="241.50" y1="580.40" x2="250.90" y2="580.40" stroke-width="2.2"/>
<line x1="241.50" y1="623.00" x2="250.90" y2="623.00" stroke-width="2.2"/>
<line x1="259.30" y1="570.50" x2="259.30" y2="607.10" stroke-width="2.2"/>
<line x1="254.60" y1="570.50" x2="264.00" y2="570.50" stroke-width="2.2"/>
<line x1="254.60" y1="607.10" x2="264.00" y2="607.10" stroke-width="2.2"/>
<line x1="279.80" y1="555.60" x2="279.80" y2="598.60" stroke-width="2.2"/>
<line x1="275.10" y1="555.60" x2="284.50" y2="555.60" stroke-width="2.2"/>
<line x1="275.10" y1="598.60" x2="284.50" y2="598.60" stroke-width="2.2"/>
<line x1="297.70" y1="528.40" x2="297.70" y2="571.60" stroke-width="2.2"/>
<line x1="293.00" y1="528.40" x2="302.40" y2="528.40" stroke-width="2.2"/>
<line x1="293.00" y1="571.60" x2="302.40" y2="571.60" stroke-width="2.2"/>
<line x1="312.80" y1="511.20" x2="312.80" y2="550.80" stroke-width="2.2"/>
<line x1="308.10" y1="511.20" x2="317.50" y2="511.20" stroke-width="2.2"/>
<line x1="308.10" y1="550.80" x2="317.50" y2="550.80" stroke-width="2.2"/>
<line x1="314.00" y1="486.80" x2="314.00" y2="522.40" stroke-width="2.2"/>
<line x1="309.30" y1="486.80" x2="318.70" y2="486.80" stroke-width="2.2"/>
<line x1="309.30" y1="522.40" x2="318.70" y2="522.40" stroke-width="2.2"/>
<line x1="333.50" y1="444.60" x2="333.50" y2="486.00" stroke-width="2.2"/>
<line x1="328.80" y1="444.60" x2="338.20" y2="444.60" stroke-width="2.2"/>
<line x1="328.80" y1="486.00" x2="338.20" y2="486.00" stroke-width="2.2"/>
<line x1="352.70" y1="433.10" x2="352.70" y2="476.10" stroke-width="2.2"/>
<line x1="348.00" y1="433.10" x2="357.40" y2="433.10" stroke-width="2.2"/>
<line x1="348.00" y1="476.10" x2="357.40" y2="476.10" stroke-width="2.2"/>
<line x1="366.00" y1="425.00" x2="366.00" y2="465.40" stroke-width="2.2"/>
<line x1="361.30" y1="425.00" x2="370.70" y2="425.00" stroke-width="2.2"/>
<line x1="361.30" y1="465.40" x2="370.70" y2="465.40" stroke-width="2.2"/>
<line x1="370.40" y1="429.60" x2="370.40" y2="458.40" stroke-width="2.2"/>
<line x1="365.70" y1="429.60" x2="375.10" y2="429.60" stroke-width="2.2"/>
<line x1="365.70" y1="458.40" x2="375.10" y2="458.40" stroke-width="2.2"/>
<line x1="376.80" y1="423.10" x2="376.80" y2="455.10" stroke-width="2.2"/>
<line x1="372.10" y1="423.10" x2="381.50" y2="423.10" stroke-width="2.2"/>
<line x1="372.10" y1="455.10" x2="381.50" y2="455.10" stroke-width="2.2"/>
<line x1="382.00" y1="420.60" x2="382.00" y2="453.00" stroke-width="2.2"/>
<line x1="377.30" y1="420.60" x2="386.70" y2="420.60" stroke-width="2.2"/>
<line x1="377.30" y1="453.00" x2="386.70" y2="453.00" stroke-width="2.2"/>
<line x1="390.00" y1="413.70" x2="390.00" y2="446.10" stroke-width="2.2"/>
<line x1="385.30" y1="413.70" x2="394.70" y2="413.70" stroke-width="2.2"/>
<line x1="385.30" y1="446.10" x2="394.70" y2="446.10" stroke-width="2.2"/>
<line x1="390.00" y1="414.40" x2="390.00" y2="450.00" stroke-width="2.2"/>
<line x1="385.30" y1="414.40" x2="394.70" y2="414.40" stroke-width="2.2"/>
<line x1="385.30" y1="450.00" x2="394.70" y2="450.00" stroke-width="2.2"/>
<line x1="391.00" y1="414.50" x2="391.00" y2="443.70" stroke-width="2.2"/>
<line x1="386.30" y1="414.50" x2="395.70" y2="414.50" stroke-width="2.2"/>
<line x1="386.30" y1="443.70" x2="395.70" y2="443.70" stroke-width="2.2"/>
<line x1="387.00" y1="413.80" x2="387.00" y2="450.60" stroke-width="2.2"/>
<line x1="382.30" y1="413.80" x2="391.70" y2="413.80" stroke-width="2.2"/>
<line x1="382.30" y1="450.60" x2="391.70" y2="450.60" stroke-width="2.2"/>
<line x1="164.30" y1="629.40" x2="164.30" y2="643.40" stroke-width="2.2"/>
<line x1="159.60" y1="629.40" x2="169.00" y2="629.40" stroke-width="2.2"/>
<line x1="159.60" y1="643.40" x2="169.00" y2="643.40" stroke-width="2.2"/>
<line x1="217.60" y1="576.60" x2="217.60" y2="611.60" stroke-width="2.2"/>
<line x1="212.90" y1="576.60" x2="222.30" y2="576.60" stroke-width="2.2"/>
<line x1="212.90" y1="611.60" x2="222.30" y2="611.60" stroke-width="2.2"/>
<line x1="234.40" y1="536.80" x2="234.40" y2="581.00" stroke-width="2.2"/>
<line x1="229.70" y1="536.80" x2="239.10" y2="536.80" stroke-width="2.2"/>
<line x1="229.70" y1="581.00" x2="239.10" y2="581.00" stroke-width="2.2"/>
<line x1="244.30" y1="507.70" x2="244.30" y2="558.90" stroke-width="2.2"/>
<line x1="239.60" y1="507.70" x2="249.00" y2="507.70" stroke-width="2.2"/>
<line x1="239.60" y1="558.90" x2="249.00" y2="558.90" stroke-width="2.2"/>
<line x1="259.10" y1="478.70" x2="259.10" y2="544.50" stroke-width="2.2"/>
<line x1="254.40" y1="478.70" x2="263.80" y2="478.70" stroke-width="2.2"/>
<line x1="254.40" y1="544.50" x2="263.80" y2="544.50" stroke-width="2.2"/>
<line x1="269.20" y1="471.80" x2="269.20" y2="532.00" stroke-width="2.2"/>
<line x1="264.50" y1="471.80" x2="273.90" y2="471.80" stroke-width="2.2"/>
<line x1="264.50" y1="532.00" x2="273.90" y2="532.00" stroke-width="2.2"/>
<line x1="277.50" y1="451.70" x2="277.50" y2="501.50" stroke-width="2.2"/>
<line x1="272.80" y1="451.70" x2="282.20" y2="451.70" stroke-width="2.2"/>
<line x1="272.80" y1="501.50" x2="282.20" y2="501.50" stroke-width="2.2"/>
<line x1="286.20" y1="431.80" x2="286.20" y2="481.40" stroke-width="2.2"/>
<line x1="281.50" y1="431.80" x2="290.90" y2="431.80" stroke-width="2.2"/>
<line x1="281.50" y1="481.40" x2="290.90" y2="481.40" stroke-width="2.2"/>
<line x1="303.20" y1="415.10" x2="303.20" y2="459.50" stroke-width="2.2"/>
<line x1="298.50" y1="415.10" x2="307.90" y2="415.10" stroke-width="2.2"/>
<line x1="298.50" y1="459.50" x2="307.90" y2="459.50" stroke-width="2.2"/>
<line x1="314.30" y1="406.10" x2="314.30" y2="437.50" stroke-width="2.2"/>
<line x1="309.60" y1="406.10" x2="319.00" y2="406.10" stroke-width="2.2"/>
<line x1="309.60" y1="437.50" x2="319.00" y2="437.50" stroke-width="2.2"/>
<line x1="326.00" y1="392.60" x2="326.00" y2="428.00" stroke-width="2.2"/>
<line x1="321.30" y1="392.60" x2="330.70" y2="392.60" stroke-width="2.2"/>
<line x1="321.30" y1="428.00" x2="330.70" y2="428.00" stroke-width="2.2"/>
<line x1="326.00" y1="391.50" x2="326.00" y2="417.30" stroke-width="2.2"/>
<line x1="321.30" y1="391.50" x2="330.70" y2="391.50" stroke-width="2.2"/>
<line x1="321.30" y1="417.30" x2="330.70" y2="417.30" stroke-width="2.2"/>
<line x1="347.50" y1="381.20" x2="347.50" y2="409.40" stroke-width="2.2"/>
<line x1="342.80" y1="381.20" x2="352.20" y2="381.20" stroke-width="2.2"/>
<line x1="342.80" y1="409.40" x2="352.20" y2="409.40" stroke-width="2.2"/>
<line x1="349.00" y1="383.10" x2="349.00" y2="411.90" stroke-width="2.2"/>
<line x1="344.30" y1="383.10" x2="353.70" y2="383.10" stroke-width="2.2"/>
<line x1="344.30" y1="411.90" x2="353.70" y2="411.90" stroke-width="2.2"/>
<line x1="346.00" y1="375.80" x2="346.00" y2="401.40" stroke-width="2.2"/>
<line x1="341.30" y1="375.80" x2="350.70" y2="375.80" stroke-width="2.2"/>
<line x1="341.30" y1="401.40" x2="350.70" y2="401.40" stroke-width="2.2"/>
<line x1="346.00" y1="367.50" x2="346.00" y2="395.10" stroke-width="2.2"/>
<line x1="341.30" y1="367.50" x2="350.70" y2="367.50" stroke-width="2.2"/>
<line x1="341.30" y1="395.10" x2="350.70" y2="395.10" stroke-width="2.2"/>
<line x1="347.00" y1="374.20" x2="347.00" y2="403.00" stroke-width="2.2"/>
<line x1="342.30" y1="374.20" x2="351.70" y2="374.20" stroke-width="2.2"/>
<line x1="342.30" y1="403.00" x2="351.70" y2="403.00" stroke-width="2.2"/>
<line x1="346.50" y1="376.00" x2="346.50" y2="404.80" stroke-width="2.2"/>
<line x1="341.80" y1="376.00" x2="351.20" y2="376.00" stroke-width="2.2"/>
<line x1="341.80" y1="404.80" x2="351.20" y2="404.80" stroke-width="2.2"/>
<path d="M63.30 638.60L68.00 643.30L63.30 648.00L58.60 643.30Z" fill="#fff" stroke-width="2.15"/>
<path d="M87.40 638.60L92.10 643.30L87.40 648.00L82.70 643.30Z" fill="#fff" stroke-width="2.15"/>
<path d="M156.70 638.55L161.15 643.00L156.70 647.45L152.25 643.00Z" fill="#fff" stroke-width="2.15"/>
<path d="M212.20 615.95L216.65 620.40L212.20 624.85L207.75 620.40Z" fill="#fff" stroke-width="2.15"/>
<path d="M246.20 597.25L250.65 601.70L246.20 606.15L241.75 601.70Z" fill="#fff" stroke-width="2.15"/>
<path d="M259.30 584.35L263.75 588.80L259.30 593.25L254.85 588.80Z" fill="#fff" stroke-width="2.15"/>
<path d="M279.80 572.65L284.25 577.10L279.80 581.55L275.35 577.10Z" fill="#fff" stroke-width="2.15"/>
<path d="M297.70 545.55L302.15 550.00L297.70 554.45L293.25 550.00Z" fill="#fff" stroke-width="2.15"/>
<path d="M312.80 526.55L317.25 531.00L312.80 535.45L308.35 531.00Z" fill="#fff" stroke-width="2.15"/>
<path d="M314.00 500.15L318.45 504.60L314.00 509.05L309.55 504.60Z" fill="#fff" stroke-width="2.15"/>
<path d="M333.50 460.85L337.95 465.30L333.50 469.75L329.05 465.30Z" fill="#fff" stroke-width="2.15"/>
<path d="M352.70 450.15L357.15 454.60L352.70 459.05L348.25 454.60Z" fill="#fff" stroke-width="2.15"/>
<path d="M366.00 440.75L370.45 445.20L366.00 449.65L361.55 445.20Z" fill="#fff" stroke-width="2.15"/>
<path d="M370.40 439.55L374.85 444.00L370.40 448.45L365.95 444.00Z" fill="#fff" stroke-width="2.15"/>
<path d="M376.80 434.65L381.25 439.10L376.80 443.55L372.35 439.10Z" fill="#fff" stroke-width="2.15"/>
<path d="M382.00 432.35L386.45 436.80L382.00 441.25L377.55 436.80Z" fill="#fff" stroke-width="2.15"/>
<path d="M390.00 425.45L394.45 429.90L390.00 434.35L385.55 429.90Z" fill="#fff" stroke-width="2.15"/>
<path d="M390.00 427.75L394.45 432.20L390.00 436.65L385.55 432.20Z" fill="#fff" stroke-width="2.15"/>
<path d="M391.00 424.65L395.45 429.10L391.00 433.55L386.55 429.10Z" fill="#fff" stroke-width="2.15"/>
<path d="M387.00 427.75L391.45 432.20L387.00 436.65L382.55 432.20Z" fill="#fff" stroke-width="2.15"/>
<line x1="135.00" y1="643.00" x2="178.40" y2="643.00" stroke-width="2.2"/>
<line x1="135.00" y1="638.30" x2="135.00" y2="647.70" stroke-width="2.2"/>
<line x1="178.40" y1="638.30" x2="178.40" y2="647.70" stroke-width="2.2"/>
<line x1="184.20" y1="620.40" x2="240.20" y2="620.40" stroke-width="2.2"/>
<line x1="184.20" y1="615.70" x2="184.20" y2="625.10" stroke-width="2.2"/>
<line x1="240.20" y1="615.70" x2="240.20" y2="625.10" stroke-width="2.2"/>
<line x1="214.00" y1="601.70" x2="278.40" y2="601.70" stroke-width="2.2"/>
<line x1="214.00" y1="597.00" x2="214.00" y2="606.40" stroke-width="2.2"/>
<line x1="278.40" y1="597.00" x2="278.40" y2="606.40" stroke-width="2.2"/>
<line x1="230.00" y1="588.80" x2="288.60" y2="588.80" stroke-width="2.2"/>
<line x1="230.00" y1="584.10" x2="230.00" y2="593.50" stroke-width="2.2"/>
<line x1="288.60" y1="584.10" x2="288.60" y2="593.50" stroke-width="2.2"/>
<line x1="247.80" y1="577.10" x2="311.80" y2="577.10" stroke-width="2.2"/>
<line x1="247.80" y1="572.40" x2="247.80" y2="581.80" stroke-width="2.2"/>
<line x1="311.80" y1="572.40" x2="311.80" y2="581.80" stroke-width="2.2"/>
<line x1="260.10" y1="550.00" x2="335.30" y2="550.00" stroke-width="2.2"/>
<line x1="260.10" y1="545.30" x2="260.10" y2="554.70" stroke-width="2.2"/>
<line x1="335.30" y1="545.30" x2="335.30" y2="554.70" stroke-width="2.2"/>
<line x1="273.40" y1="531.00" x2="352.20" y2="531.00" stroke-width="2.2"/>
<line x1="273.40" y1="526.30" x2="273.40" y2="535.70" stroke-width="2.2"/>
<line x1="352.20" y1="526.30" x2="352.20" y2="535.70" stroke-width="2.2"/>
<line x1="275.30" y1="504.60" x2="352.70" y2="504.60" stroke-width="2.2"/>
<line x1="275.30" y1="499.90" x2="275.30" y2="509.30" stroke-width="2.2"/>
<line x1="352.70" y1="499.90" x2="352.70" y2="509.30" stroke-width="2.2"/>
<line x1="292.90" y1="465.30" x2="374.10" y2="465.30" stroke-width="2.2"/>
<line x1="292.90" y1="460.60" x2="292.90" y2="470.00" stroke-width="2.2"/>
<line x1="374.10" y1="460.60" x2="374.10" y2="470.00" stroke-width="2.2"/>
<line x1="308.70" y1="454.60" x2="396.70" y2="454.60" stroke-width="2.2"/>
<line x1="308.70" y1="449.90" x2="308.70" y2="459.30" stroke-width="2.2"/>
<line x1="396.70" y1="449.90" x2="396.70" y2="459.30" stroke-width="2.2"/>
<line x1="318.00" y1="445.20" x2="414.00" y2="445.20" stroke-width="2.2"/>
<line x1="318.00" y1="440.50" x2="318.00" y2="449.90" stroke-width="2.2"/>
<line x1="414.00" y1="440.50" x2="414.00" y2="449.90" stroke-width="2.2"/>
<line x1="326.60" y1="444.00" x2="414.20" y2="444.00" stroke-width="2.2"/>
<line x1="326.60" y1="439.30" x2="326.60" y2="448.70" stroke-width="2.2"/>
<line x1="414.20" y1="439.30" x2="414.20" y2="448.70" stroke-width="2.2"/>
<line x1="330.50" y1="439.10" x2="423.10" y2="439.10" stroke-width="2.2"/>
<line x1="330.50" y1="434.40" x2="330.50" y2="443.80" stroke-width="2.2"/>
<line x1="423.10" y1="434.40" x2="423.10" y2="443.80" stroke-width="2.2"/>
<line x1="328.00" y1="436.80" x2="436.00" y2="436.80" stroke-width="2.2"/>
<line x1="328.00" y1="432.10" x2="328.00" y2="441.50" stroke-width="2.2"/>
<line x1="436.00" y1="432.10" x2="436.00" y2="441.50" stroke-width="2.2"/>
<line x1="336.50" y1="429.90" x2="443.50" y2="429.90" stroke-width="2.2"/>
<line x1="336.50" y1="425.20" x2="336.50" y2="434.60" stroke-width="2.2"/>
<line x1="443.50" y1="425.20" x2="443.50" y2="434.60" stroke-width="2.2"/>
<line x1="333.00" y1="432.20" x2="447.00" y2="432.20" stroke-width="2.2"/>
<line x1="333.00" y1="427.50" x2="333.00" y2="436.90" stroke-width="2.2"/>
<line x1="447.00" y1="427.50" x2="447.00" y2="436.90" stroke-width="2.2"/>
<line x1="347.50" y1="429.10" x2="434.50" y2="429.10" stroke-width="2.2"/>
<line x1="347.50" y1="424.40" x2="347.50" y2="433.80" stroke-width="2.2"/>
<line x1="434.50" y1="424.40" x2="434.50" y2="433.80" stroke-width="2.2"/>
<line x1="339.50" y1="432.20" x2="434.50" y2="432.20" stroke-width="2.2"/>
<line x1="339.50" y1="427.50" x2="339.50" y2="436.90" stroke-width="2.2"/>
<line x1="434.50" y1="427.50" x2="434.50" y2="436.90" stroke-width="2.2"/>
<line x1="140.50" y1="636.40" x2="188.10" y2="636.40" stroke-width="2.2"/>
<line x1="140.50" y1="631.70" x2="140.50" y2="641.10" stroke-width="2.2"/>
<line x1="188.10" y1="631.70" x2="188.10" y2="641.10" stroke-width="2.2"/>
<line x1="190.80" y1="594.10" x2="244.40" y2="594.10" stroke-width="2.2"/>
<line x1="190.80" y1="589.40" x2="190.80" y2="598.80" stroke-width="2.2"/>
<line x1="244.40" y1="589.40" x2="244.40" y2="598.80" stroke-width="2.2"/>
<line x1="204.00" y1="558.90" x2="264.80" y2="558.90" stroke-width="2.2"/>
<line x1="204.00" y1="554.20" x2="204.00" y2="563.60" stroke-width="2.2"/>
<line x1="264.80" y1="554.20" x2="264.80" y2="563.60" stroke-width="2.2"/>
<line x1="213.30" y1="533.30" x2="275.30" y2="533.30" stroke-width="2.2"/>
<line x1="213.30" y1="528.60" x2="213.30" y2="538.00" stroke-width="2.2"/>
<line x1="275.30" y1="528.60" x2="275.30" y2="538.00" stroke-width="2.2"/>
<line x1="228.30" y1="511.60" x2="289.90" y2="511.60" stroke-width="2.2"/>
<line x1="228.30" y1="506.90" x2="228.30" y2="516.30" stroke-width="2.2"/>
<line x1="289.90" y1="506.90" x2="289.90" y2="516.30" stroke-width="2.2"/>
<line x1="236.70" y1="501.90" x2="301.70" y2="501.90" stroke-width="2.2"/>
<line x1="236.70" y1="497.20" x2="236.70" y2="506.60" stroke-width="2.2"/>
<line x1="301.70" y1="497.20" x2="301.70" y2="506.60" stroke-width="2.2"/>
<line x1="245.50" y1="476.60" x2="309.50" y2="476.60" stroke-width="2.2"/>
<line x1="245.50" y1="471.90" x2="245.50" y2="481.30" stroke-width="2.2"/>
<line x1="309.50" y1="471.90" x2="309.50" y2="481.30" stroke-width="2.2"/>
<line x1="253.20" y1="456.60" x2="319.20" y2="456.60" stroke-width="2.2"/>
<line x1="253.20" y1="451.90" x2="253.20" y2="461.30" stroke-width="2.2"/>
<line x1="319.20" y1="451.90" x2="319.20" y2="461.30" stroke-width="2.2"/>
<line x1="268.80" y1="437.30" x2="337.60" y2="437.30" stroke-width="2.2"/>
<line x1="268.80" y1="432.60" x2="268.80" y2="442.00" stroke-width="2.2"/>
<line x1="337.60" y1="432.60" x2="337.60" y2="442.00" stroke-width="2.2"/>
<line x1="278.30" y1="421.80" x2="350.30" y2="421.80" stroke-width="2.2"/>
<line x1="278.30" y1="417.10" x2="278.30" y2="426.50" stroke-width="2.2"/>
<line x1="350.30" y1="417.10" x2="350.30" y2="426.50" stroke-width="2.2"/>
<line x1="308.50" y1="395.30" x2="386.50" y2="395.30" stroke-width="2.2"/>
<line x1="308.50" y1="390.60" x2="308.50" y2="400.00" stroke-width="2.2"/>
<line x1="386.50" y1="390.60" x2="386.50" y2="400.00" stroke-width="2.2"/>
<line x1="312.00" y1="397.50" x2="386.00" y2="397.50" stroke-width="2.2"/>
<line x1="312.00" y1="392.80" x2="312.00" y2="402.20" stroke-width="2.2"/>
<line x1="386.00" y1="392.80" x2="386.00" y2="402.20" stroke-width="2.2"/>
<line x1="308.00" y1="388.60" x2="384.00" y2="388.60" stroke-width="2.2"/>
<line x1="308.00" y1="383.90" x2="308.00" y2="393.30" stroke-width="2.2"/>
<line x1="384.00" y1="383.90" x2="384.00" y2="393.30" stroke-width="2.2"/>
<line x1="308.70" y1="381.30" x2="383.30" y2="381.30" stroke-width="2.2"/>
<line x1="308.70" y1="376.60" x2="308.70" y2="386.00" stroke-width="2.2"/>
<line x1="383.30" y1="376.60" x2="383.30" y2="386.00" stroke-width="2.2"/>
<line x1="307.00" y1="388.60" x2="387.00" y2="388.60" stroke-width="2.2"/>
<line x1="307.00" y1="383.90" x2="307.00" y2="393.30" stroke-width="2.2"/>
<line x1="387.00" y1="383.90" x2="387.00" y2="393.30" stroke-width="2.2"/>
<line x1="308.00" y1="390.40" x2="385.00" y2="390.40" stroke-width="2.2"/>
<line x1="308.00" y1="385.70" x2="308.00" y2="395.10" stroke-width="2.2"/>
<line x1="385.00" y1="385.70" x2="385.00" y2="395.10" stroke-width="2.2"/>
<line x1="286.60" y1="404.30" x2="358.60" y2="404.30" stroke-width="2.2"/>
<line x1="286.60" y1="399.60" x2="286.60" y2="409.00" stroke-width="2.2"/>
<line x1="358.60" y1="399.60" x2="358.60" y2="409.00" stroke-width="2.2"/>
<line x1="289.90" y1="410.00" x2="361.90" y2="410.00" stroke-width="2.2"/>
<line x1="289.90" y1="405.30" x2="289.90" y2="414.70" stroke-width="2.2"/>
<line x1="361.90" y1="405.30" x2="361.90" y2="414.70" stroke-width="2.2"/>
<polyline points="61.5,642.84 62.0,642.83 62.5,642.82 63.0,642.81 63.5,642.80 64.0,642.79 64.5,642.77 65.0,642.76 65.5,642.75 66.0,642.74 66.5,642.72 67.0,642.71 67.5,642.70 68.0,642.69 68.5,642.67 69.0,642.66 69.5,642.64 70.0,642.63 70.5,642.62 71.0,642.60 71.5,642.59 72.0,642.57 72.5,642.56 73.0,642.54 73.5,642.53 74.0,642.51 74.5,642.49 75.0,642.48 75.5,642.46 76.0,642.44 76.5,642.43 77.0,642.41 77.5,642.39 78.0,642.38 78.5,642.36 79.0,642.34 79.5,642.32 80.0,642.30 80.5,642.28 81.0,642.26 81.5,642.24 82.0,642.22 82.5,642.20 83.0,642.18 83.5,642.16 84.0,642.14 84.5,642.12 85.0,642.10 85.5,642.08 86.0,642.05 86.5,642.03 87.0,642.01 87.5,641.98 88.0,641.96 88.5,641.94 89.0,641.91 89.5,641.89 90.0,641.86 90.5,641.84 91.0,641.81 91.5,641.78 92.0,641.76 92.5,641.73 93.0,641.70 93.5,641.68 94.0,641.65 94.5,641.62 95.0,641.59 95.5,641.56 96.0,641.53 96.5,641.50 97.0,641.47 97.5,641.44 98.0,641.41 98.5,641.37 99.0,641.34 99.5,641.31 100.0,641.27 100.5,641.24 101.0,641.21 101.5,641.17 102.0,641.14 102.5,641.10 103.0,641.06 103.5,641.03 104.0,640.99 104.5,640.95 105.0,640.91 105.5,640.87 106.0,640.83 106.5,640.79 107.0,640.75 107.5,640.71 108.0,640.67 108.5,640.62 109.0,640.58 109.5,640.54 110.0,640.49 110.5,640.45 111.0,640.40 111.5,640.35 112.0,640.31 112.5,640.26 113.0,640.21 113.5,640.16 114.0,640.11 114.5,640.06 115.0,640.01 115.5,639.95 116.0,639.90 116.5,639.85 117.0,639.79 117.5,639.74 118.0,639.68 118.5,639.62 119.0,639.57 119.5,639.51 120.0,639.45 120.5,639.39 121.0,639.33 121.5,639.26 122.0,639.20 122.5,639.14 123.0,639.07 123.5,639.01 124.0,638.94 124.5,638.87 125.0,638.80 125.5,638.73 126.0,638.66 126.5,638.59 127.0,638.52 127.5,638.45 128.0,638.37 128.5,638.29 129.0,638.22 129.5,638.14 130.0,638.06 130.5,637.98 131.0,637.90 131.5,637.82 132.0,637.73 132.5,637.65 133.0,637.56 133.5,637.48 134.0,637.39 134.5,637.30 135.0,637.21 135.5,637.11 136.0,637.02 136.5,636.93 137.0,636.83 137.5,636.73 138.0,636.63 138.5,636.53 139.0,636.43 139.5,636.33 140.0,636.22 140.5,636.12 141.0,636.01 141.5,635.90 142.0,635.79 142.5,635.68 143.0,635.57 143.5,635.45 144.0,635.33 144.5,635.21 145.0,635.09 145.5,634.97 146.0,634.85 146.5,634.72 147.0,634.60 147.5,634.47 148.0,634.34 148.5,634.21 149.0,634.07 149.5,633.94 150.0,633.80 150.5,633.66 151.0,633.52 151.5,633.38 152.0,633.23 152.5,633.08 153.0,632.93 153.5,632.78 154.0,632.63 154.5,632.47 155.0,632.32 155.5,632.16 156.0,631.99 156.5,631.83 157.0,631.66 157.5,631.49 158.0,631.32 158.5,631.15 159.0,630.98 159.5,630.80 160.0,630.62 160.5,630.43 161.0,630.25 161.5,630.06 162.0,629.87 162.5,629.68 163.0,629.48 163.5,629.29 164.0,629.09 164.5,628.88 165.0,628.68 165.5,628.47 166.0,628.26 166.5,628.05 167.0,627.83 167.5,627.61 168.0,627.39 168.5,627.16 169.0,626.93 169.5,626.70 170.0,626.47 170.5,626.23 171.0,625.99 171.5,625.75 172.0,625.50 172.5,625.25 173.0,625.00 173.5,624.74 174.0,624.48 174.5,624.22 175.0,623.96 175.5,623.69 176.0,623.41 176.5,623.14 177.0,622.86 177.5,622.58 178.0,622.29 178.5,622.00 179.0,621.71 179.5,621.41 180.0,621.11 180.5,620.80 181.0,620.49 181.5,620.18 182.0,619.87 182.5,619.55 183.0,619.22 183.5,618.89 184.0,618.56 184.5,618.23 185.0,617.89 185.5,617.54 186.0,617.19 186.5,616.84 187.0,616.49 187.5,616.13 188.0,615.76 188.5,615.39 189.0,615.02 189.5,614.64 190.0,614.26 190.5,613.87 191.0,613.48 191.5,613.09 192.0,612.69 192.5,612.28 193.0,611.87 193.5,611.46 194.0,611.04 194.5,610.62 195.0,610.19 195.5,609.75 196.0,609.32 196.5,608.87 197.0,608.43 197.5,607.98 198.0,607.52 198.5,607.06 199.0,606.59 199.5,606.12 200.0,605.64 200.5,605.16 201.0,604.67 201.5,604.18 202.0,603.68 202.5,603.18 203.0,602.67 203.5,602.15 204.0,601.63 204.5,601.11 205.0,600.58 205.5,600.05 206.0,599.51 206.5,598.96 207.0,598.41 207.5,597.85 208.0,597.29 208.5,596.72 209.0,596.15 209.5,595.57 210.0,594.99 210.5,594.40 211.0,593.80 211.5,593.20 212.0,592.59 212.5,591.98 213.0,591.36 213.5,590.74 214.0,590.11 214.5,589.48 215.0,588.84 215.5,588.19 216.0,587.54 216.5,586.88 217.0,586.22 217.5,585.55 218.0,584.88 218.5,584.19 219.0,583.51 219.5,582.82 220.0,582.12 220.5,581.42 221.0,580.71 221.5,579.99 222.0,579.27 222.5,578.55 223.0,577.82 223.5,577.08 224.0,576.34 224.5,575.59 225.0,574.84 225.5,574.08 226.0,573.31 226.5,572.54 227.0,571.77 227.5,570.99 228.0,570.20 228.5,569.41 229.0,568.61 229.5,567.81 230.0,567.00 230.5,566.19 231.0,565.37 231.5,564.54 232.0,563.71 232.5,562.88 233.0,562.04 233.5,561.20 234.0,560.35 234.5,559.49 235.0,558.64 235.5,557.77 236.0,556.90 236.5,556.03 237.0,555.15 237.5,554.27 238.0,553.38 238.5,552.49 239.0,551.59 239.5,550.69 240.0,549.79 240.5,548.88 241.0,547.97 241.5,547.05 242.0,546.13 242.5,545.20 243.0,544.28 243.5,543.34 244.0,542.41 244.5,541.47 245.0,540.52 245.5,539.58 246.0,538.62 246.5,537.67 247.0,536.71 247.5,535.75 248.0,534.79 248.5,533.82 249.0,532.85 249.5,531.88 250.0,530.91 250.5,529.93 251.0,528.95 251.5,527.97 252.0,526.98 252.5,526.00 253.0,525.01 253.5,524.02 254.0,523.03 254.5,522.03 255.0,521.04 255.5,520.04 256.0,519.04 256.5,518.04 257.0,517.04 257.5,516.03 258.0,515.03 258.5,514.02 259.0,513.02 259.5,512.01 260.0,511.00 260.5,509.99 261.0,508.99 261.5,507.98 262.0,506.97 262.5,505.96 263.0,504.95 263.5,503.94 264.0,502.93 264.5,501.92 265.0,500.92 265.5,499.91 266.0,498.90 266.5,497.90 267.0,496.89 267.5,495.89 268.0,494.88 268.5,493.88 269.0,492.88 269.5,491.88 270.0,490.88 270.5,489.89 271.0,488.89 271.5,487.90 272.0,486.91 272.5,485.92 273.0,484.93 273.5,483.95 274.0,482.97 274.5,481.99 275.0,481.01 275.5,480.04 276.0,479.06 276.5,478.10 277.0,477.13 277.5,476.17 278.0,475.21 278.5,474.25 279.0,473.29 279.5,472.34 280.0,471.40 280.5,470.45 281.0,469.51 281.5,468.58 282.0,467.64 282.5,466.71 283.0,465.79 283.5,464.87 284.0,463.95 284.5,463.04 285.0,462.13 285.5,461.22 286.0,460.32 286.5,459.43 287.0,458.54 287.5,457.65 288.0,456.77 288.5,455.89 289.0,455.02 289.5,454.15 290.0,453.28 290.5,452.42 291.0,451.57 291.5,450.72 292.0,449.88 292.5,449.04 293.0,448.20 293.5,447.38 294.0,446.55 294.5,445.73 295.0,444.92 295.5,444.11 296.0,443.31 296.5,442.51 297.0,441.72 297.5,440.93 298.0,440.15 298.5,439.38 299.0,438.61 299.5,437.84 300.0,437.08 300.5,436.33 301.0,435.58 301.5,434.84 302.0,434.10 302.5,433.37 303.0,432.64 303.5,431.92 304.0,431.21 304.5,430.50 305.0,429.80 305.5,429.10 306.0,428.41 306.5,427.72 307.0,427.04 307.5,426.37 308.0,425.70 308.5,425.04 309.0,424.38 309.5,423.73 310.0,423.08 310.5,422.44 311.0,421.81 311.5,421.18 312.0,420.55 312.5,419.94 313.0,419.32 313.5,418.72 314.0,418.12 314.5,417.52 315.0,416.93 315.5,416.35 316.0,415.77 316.5,415.20 317.0,414.63 317.5,414.07 318.0,413.51 318.5,412.96 319.0,412.41 319.5,411.87 320.0,411.34 320.5,410.81 321.0,410.28 321.5,409.77 322.0,409.25 322.5,408.74 323.0,408.24 323.5,407.74 324.0,407.25 324.5,406.76 325.0,406.28 325.5,405.80 326.0,405.33 326.5,404.86 327.0,404.40 327.5,403.94 328.0,403.49 328.5,403.04 329.0,402.60 329.5,402.16 330.0,401.73 330.5,401.30 331.0,400.88 331.5,400.46 332.0,400.05 332.5,399.64 333.0,399.23 333.5,398.83 334.0,398.44 334.5,398.05 335.0,397.66 335.5,397.28 336.0,396.90 336.5,396.53 337.0,396.16 337.5,395.79 338.0,395.43 338.5,395.08 339.0,394.72 339.5,394.38 340.0,394.03 340.5,393.69 341.0,393.36 341.5,393.02 342.0,392.70 342.5,392.37 343.0,392.05 343.5,391.74 344.0,391.42 344.5,391.12 345.0,390.81 345.5,390.51 346.0,390.21 346.5,389.92 347.0,389.63 347.5,389.34 348.0,389.06 348.5,388.78 349.0,388.50 349.5,388.23 350.0,387.96" fill="none" stroke-width="2.2"/>
<polyline points="61.5,643.38 62.0,643.38 62.5,643.38 63.0,643.37 63.5,643.37 64.0,643.37 64.5,643.36 65.0,643.36 65.5,643.36 66.0,643.35 66.5,643.35 67.0,643.35 67.5,643.34 68.0,643.34 68.5,643.33 69.0,643.33 69.5,643.33 70.0,643.32 70.5,643.32 71.0,643.31 71.5,643.31 72.0,643.31 72.5,643.30 73.0,643.30 73.5,643.29 74.0,643.29 74.5,643.28 75.0,643.28 75.5,643.28 76.0,643.27 76.5,643.27 77.0,643.26 77.5,643.26 78.0,643.25 78.5,643.25 79.0,643.24 79.5,643.24 80.0,643.23 80.5,643.23 81.0,643.22 81.5,643.21 82.0,643.21 82.5,643.20 83.0,643.20 83.5,643.19 84.0,643.19 84.5,643.18 85.0,643.17 85.5,643.17 86.0,643.16 86.5,643.16 87.0,643.15 87.5,643.14 88.0,643.14 88.5,643.13 89.0,643.12 89.5,643.12 90.0,643.11 90.5,643.10 91.0,643.09 91.5,643.09 92.0,643.08 92.5,643.07 93.0,643.07 93.5,643.06 94.0,643.05 94.5,643.04 95.0,643.03 95.5,643.03 96.0,643.02 96.5,643.01 97.0,643.00 97.5,642.99 98.0,642.98 98.5,642.97 99.0,642.97 99.5,642.96 100.0,642.95 100.5,642.94 101.0,642.93 101.5,642.92 102.0,642.91 102.5,642.90 103.0,642.89 103.5,642.88 104.0,642.87 104.5,642.86 105.0,642.85 105.5,642.84 106.0,642.83 106.5,642.81 107.0,642.80 107.5,642.79 108.0,642.78 108.5,642.77 109.0,642.76 109.5,642.74 110.0,642.73 110.5,642.72 111.0,642.71 111.5,642.69 112.0,642.68 112.5,642.67 113.0,642.65 113.5,642.64 114.0,642.63 114.5,642.61 115.0,642.60 115.5,642.58 116.0,642.57 116.5,642.56 117.0,642.54 117.5,642.53 118.0,642.51 118.5,642.49 119.0,642.48 119.5,642.46 120.0,642.45 120.5,642.43 121.0,642.41 121.5,642.40 122.0,642.38 122.5,642.36 123.0,642.34 123.5,642.33 124.0,642.31 124.5,642.29 125.0,642.27 125.5,642.25 126.0,642.23 126.5,642.21 127.0,642.19 127.5,642.17 128.0,642.15 128.5,642.13 129.0,642.11 129.5,642.09 130.0,642.07 130.5,642.05 131.0,642.02 131.5,642.00 132.0,641.98 132.5,641.95 133.0,641.93 133.5,641.91 134.0,641.88 134.5,641.86 135.0,641.83 135.5,641.81 136.0,641.78 136.5,641.76 137.0,641.73 137.5,641.70 138.0,641.68 138.5,641.65 139.0,641.62 139.5,641.59 140.0,641.56 140.5,641.54 141.0,641.51 141.5,641.48 142.0,641.45 142.5,641.42 143.0,641.38 143.5,641.35 144.0,641.32 144.5,641.29 145.0,641.26 145.5,641.22 146.0,641.19 146.5,641.15 147.0,641.12 147.5,641.08 148.0,641.05 148.5,641.01 149.0,640.97 149.5,640.94 150.0,640.90 150.5,640.86 151.0,640.82 151.5,640.78 152.0,640.74 152.5,640.70 153.0,640.66 153.5,640.62 154.0,640.58 154.5,640.53 155.0,640.49 155.5,640.45 156.0,640.40 156.5,640.36 157.0,640.31 157.5,640.26 158.0,640.22 158.5,640.17 159.0,640.12 159.5,640.07 160.0,640.02 160.5,639.97 161.0,639.92 161.5,639.87 162.0,639.81 162.5,639.76 163.0,639.70 163.5,639.65 164.0,639.59 164.5,639.54 165.0,639.48 165.5,639.42 166.0,639.36 166.5,639.30 167.0,639.24 167.5,639.18 168.0,639.12 168.5,639.05 169.0,638.99 169.5,638.93 170.0,638.86 170.5,638.79 171.0,638.73 171.5,638.66 172.0,638.59 172.5,638.52 173.0,638.44 173.5,638.37 174.0,638.30 174.5,638.22 175.0,638.15 175.5,638.07 176.0,637.99 176.5,637.92 177.0,637.84 177.5,637.76 178.0,637.67 178.5,637.59 179.0,637.51 179.5,637.42 180.0,637.33 180.5,637.25 181.0,637.16 181.5,637.07 182.0,636.98 182.5,636.88 183.0,636.79 183.5,636.69 184.0,636.60 184.5,636.50 185.0,636.40 185.5,636.30 186.0,636.20 186.5,636.10 187.0,635.99 187.5,635.89 188.0,635.78 188.5,635.67 189.0,635.56 189.5,635.45 190.0,635.33 190.5,635.22 191.0,635.10 191.5,634.99 192.0,634.87 192.5,634.75 193.0,634.62 193.5,634.50 194.0,634.37 194.5,634.25 195.0,634.12 195.5,633.99 196.0,633.85 196.5,633.72 197.0,633.58 197.5,633.44 198.0,633.30 198.5,633.16 199.0,633.02 199.5,632.87 200.0,632.73 200.5,632.58 201.0,632.43 201.5,632.27 202.0,632.12 202.5,631.96 203.0,631.80 203.5,631.64 204.0,631.48 204.5,631.31 205.0,631.15 205.5,630.98 206.0,630.80 206.5,630.63 207.0,630.45 207.5,630.28 208.0,630.09 208.5,629.91 209.0,629.73 209.5,629.54 210.0,629.35 210.5,629.16 211.0,628.96 211.5,628.76 212.0,628.56 212.5,628.36 213.0,628.16 213.5,627.95 214.0,627.74 214.5,627.53 215.0,627.31 215.5,627.09 216.0,626.87 216.5,626.65 217.0,626.42 217.5,626.19 218.0,625.96 218.5,625.73 219.0,625.49 219.5,625.25 220.0,625.01 220.5,624.76 221.0,624.51 221.5,624.26 222.0,624.00 222.5,623.75 223.0,623.49 223.5,623.22 224.0,622.95 224.5,622.68 225.0,622.41 225.5,622.13 226.0,621.85 226.5,621.57 227.0,621.28 227.5,620.99 228.0,620.70 228.5,620.40 229.0,620.10 229.5,619.79 230.0,619.49 230.5,619.18 231.0,618.86 231.5,618.54 232.0,618.22 232.5,617.90 233.0,617.57 233.5,617.24 234.0,616.90 234.5,616.56 235.0,616.21 235.5,615.87 236.0,615.52 236.5,615.16 237.0,614.80 237.5,614.44 238.0,614.07 238.5,613.70 239.0,613.33 239.5,612.95 240.0,612.56 240.5,612.18 241.0,611.79 241.5,611.39 242.0,610.99 242.5,610.59 243.0,610.18 243.5,609.77 244.0,609.35 244.5,608.93 245.0,608.51 245.5,608.08 246.0,607.65 246.5,607.21 247.0,606.77 247.5,606.32 248.0,605.87 248.5,605.41 249.0,604.96 249.5,604.49 250.0,604.02 250.5,603.55 251.0,603.07 251.5,602.59 252.0,602.11 252.5,601.62 253.0,601.12 253.5,600.62 254.0,600.12 254.5,599.61 255.0,599.09 255.5,598.58 256.0,598.05 256.5,597.53 257.0,596.99 257.5,596.46 258.0,595.92 258.5,595.37 259.0,594.82 259.5,594.27 260.0,593.71 260.5,593.14 261.0,592.57 261.5,592.00 262.0,591.42 262.5,590.84 263.0,590.25 263.5,589.66 264.0,589.06 264.5,588.46 265.0,587.86 265.5,587.25 266.0,586.63 266.5,586.01 267.0,585.39 267.5,584.76 268.0,584.13 268.5,583.49 269.0,582.85 269.5,582.20 270.0,581.55 270.5,580.90 271.0,580.24 271.5,579.57 272.0,578.91 272.5,578.23 273.0,577.56 273.5,576.87 274.0,576.19 274.5,575.50 275.0,574.81 275.5,574.11 276.0,573.41 276.5,572.70 277.0,571.99 277.5,571.28 278.0,570.56 278.5,569.84 279.0,569.11 279.5,568.38 280.0,567.65 280.5,566.91 281.0,566.17 281.5,565.43 282.0,564.68 282.5,563.93 283.0,563.17 283.5,562.41 284.0,561.65 284.5,560.89 285.0,560.12 285.5,559.35 286.0,558.57 286.5,557.79 287.0,557.01 287.5,556.23 288.0,555.44 288.5,554.65 289.0,553.86 289.5,553.06 290.0,552.27 290.5,551.47 291.0,550.66 291.5,549.86 292.0,549.05 292.5,548.24 293.0,547.43 293.5,546.62 294.0,545.80 294.5,544.98 295.0,544.16 295.5,543.34 296.0,542.52 296.5,541.69 297.0,540.86 297.5,540.03 298.0,539.20 298.5,538.37 299.0,537.54 299.5,536.71 300.0,535.87 300.5,535.04 301.0,534.20 301.5,533.36 302.0,532.52 302.5,531.69 303.0,530.85 303.5,530.01 304.0,529.17 304.5,528.32 305.0,527.48 305.5,526.64 306.0,525.80 306.5,524.96 307.0,524.12 307.5,523.28 308.0,522.44 308.5,521.60 309.0,520.75 309.5,519.92 310.0,519.08 310.5,518.24 311.0,517.40 311.5,516.56 312.0,515.73 312.5,514.89 313.0,514.06 313.5,513.23 314.0,512.40 314.5,511.57 315.0,510.74 315.5,509.91 316.0,509.09 316.5,508.26 317.0,507.44 317.5,506.62 318.0,505.80 318.5,504.99 319.0,504.17 319.5,503.36 320.0,502.55 320.5,501.74 321.0,500.94 321.5,500.13 322.0,499.33 322.5,498.54 323.0,497.74 323.5,496.95 324.0,496.16 324.5,495.37 325.0,494.59 325.5,493.81 326.0,493.03 326.5,492.26 327.0,491.48 327.5,490.72 328.0,489.95 328.5,489.19 329.0,488.43 329.5,487.67 330.0,486.92 330.5,486.18 331.0,485.43 331.5,484.69 332.0,483.95 332.5,483.22 333.0,482.49 333.5,481.76 334.0,481.04 334.5,480.32 335.0,479.61 335.5,478.90 336.0,478.19 336.5,477.49 337.0,476.79 337.5,476.10 338.0,475.41 338.5,474.73 339.0,474.04 339.5,473.37 340.0,472.70 340.5,472.03 341.0,471.36 341.5,470.70 342.0,470.05 342.5,469.40 343.0,468.75 343.5,468.11 344.0,467.47 344.5,466.84 345.0,466.21 345.5,465.59 346.0,464.97 346.5,464.35 347.0,463.74 347.5,463.14 348.0,462.54 348.5,461.94 349.0,461.35 349.5,460.76 350.0,460.18 350.5,459.60 351.0,459.03 351.5,458.46 352.0,457.89 352.5,457.33 353.0,456.78 353.5,456.23 354.0,455.68 354.5,455.14 355.0,454.61 355.5,454.07 356.0,453.55 356.5,453.02 357.0,452.51 357.5,451.99 358.0,451.48 358.5,450.98 359.0,450.48 359.5,449.99 360.0,449.49 360.5,449.01 361.0,448.53 361.5,448.05 362.0,447.58 362.5,447.11 363.0,446.65 363.5,446.19 364.0,445.73 364.5,445.28 365.0,444.83 365.5,444.39 366.0,443.96 366.5,443.52 367.0,443.09 367.5,442.67 368.0,442.25 368.5,441.83 369.0,441.42 369.5,441.01 370.0,440.61 370.5,440.21 371.0,439.82 371.5,439.42 372.0,439.04 372.5,438.65 373.0,438.28 373.5,437.90 374.0,437.53 374.5,437.16 375.0,436.80 375.5,436.44 376.0,436.08 376.5,435.73 377.0,435.39 377.5,435.04 378.0,434.70 378.5,434.37 379.0,434.03 379.5,433.70 380.0,433.38 380.5,433.06 381.0,432.74 381.5,432.42 382.0,432.11 382.5,431.81 383.0,431.50 383.5,431.20 384.0,430.90 384.5,430.61 385.0,430.32 385.5,430.03 386.0,429.75 386.5,429.47 387.0,429.19 387.5,428.92 388.0,428.65 388.5,428.38 389.0,428.12 389.5,427.85 390.0,427.60 390.5,427.34 391.0,427.09 391.5,426.84 392.0,426.59 392.5,426.35 393.0,426.11 393.5,425.87 394.0,425.64 394.5,425.41 395.0,425.18" fill="none" stroke-width="2.2"/>
<circle cx="75.40" cy="643.40" r="4.9" fill="#000" stroke="none"/>
<circle cx="104.90" cy="643.60" r="4.9" fill="#000" stroke="none"/>
<circle cx="164.30" cy="636.40" r="4.9" fill="#000" stroke="none"/>
<circle cx="217.60" cy="594.10" r="4.9" fill="#000" stroke="none"/>
<circle cx="234.40" cy="558.90" r="4.9" fill="#000" stroke="none"/>
<circle cx="244.30" cy="533.30" r="4.9" fill="#000" stroke="none"/>
<circle cx="259.10" cy="511.60" r="4.9" fill="#000" stroke="none"/>
<circle cx="269.20" cy="501.90" r="4.9" fill="#000" stroke="none"/>
<circle cx="277.50" cy="476.60" r="4.9" fill="#000" stroke="none"/>
<circle cx="286.20" cy="456.60" r="4.9" fill="#000" stroke="none"/>
<circle cx="303.20" cy="437.30" r="4.9" fill="#000" stroke="none"/>
<circle cx="314.30" cy="421.80" r="4.9" fill="#000" stroke="none"/>
<circle cx="326.00" cy="410.30" r="4.9" fill="#000" stroke="none"/>
<circle cx="326.00" cy="404.40" r="4.9" fill="#000" stroke="none"/>
<circle cx="347.50" cy="395.30" r="4.9" fill="#000" stroke="none"/>
<circle cx="349.00" cy="397.50" r="4.9" fill="#000" stroke="none"/>
<circle cx="346.00" cy="388.60" r="4.9" fill="#000" stroke="none"/>
<circle cx="346.00" cy="381.30" r="4.9" fill="#000" stroke="none"/>
<circle cx="347.00" cy="388.60" r="4.9" fill="#000" stroke="none"/>
<circle cx="346.50" cy="390.40" r="4.9" fill="#000" stroke="none"/>
<circle cx="345.50" cy="403.00" r="4.9" fill="#000" stroke="none"/>
<circle cx="422.05" cy="540.80" r="5.0" fill="#000" stroke="none"/>
<text x="429.80" y="545.60" font-size="16" text-anchor="start" font-weight="normal">Nbea+/+</text>
<path d="M421.40 566.40L426.30 571.30L421.40 576.20L416.50 571.30Z" fill="#fff" stroke-width="2.2"/>
<text x="429.80" y="576.00" font-size="16" text-anchor="start" font-weight="normal">Nbea+/-</text>
</g>
</svg>
</body></html>
